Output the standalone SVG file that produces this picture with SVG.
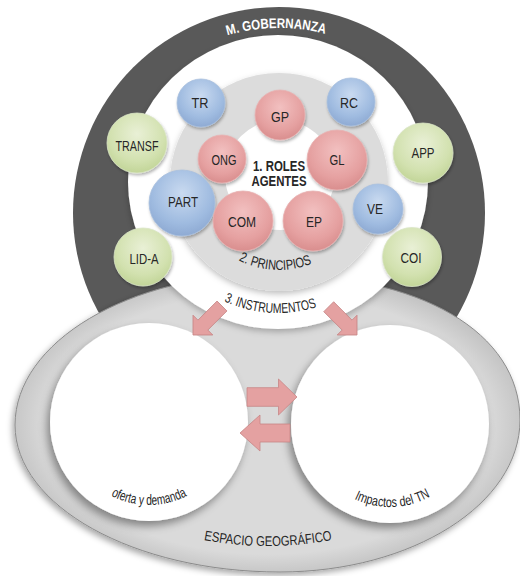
<svg xmlns="http://www.w3.org/2000/svg" width="520" height="576" viewBox="0 0 520 576">
<style>
text{font-family:"Liberation Sans",Arial,sans-serif;fill:#262626;font-size:14px}
.lbl{text-anchor:middle}
.b{font-weight:bold}
.blue{fill:url(#gBlue);stroke:#a9c0de;stroke-width:0.8;filter:url(#sh)}
.pink{fill:url(#gPink);stroke:#e8b2b2;stroke-width:0.8;filter:url(#sh)}
.green{fill:url(#gGreen);stroke:#dbe6c6;stroke-width:0.8;filter:url(#sh)}
.arr{fill:#e4a1a1;stroke:#c68585;stroke-width:0.8}
</style>
<defs>
<radialGradient id="gBlue" cx="50%" cy="35%" r="65%"><stop offset="0" stop-color="#c9daf0"/><stop offset="0.7" stop-color="#9fbbe0"/><stop offset="1" stop-color="#8eaad3"/></radialGradient>
<radialGradient id="gPink" cx="50%" cy="35%" r="65%"><stop offset="0" stop-color="#f2c0c0"/><stop offset="0.7" stop-color="#e5a0a0"/><stop offset="1" stop-color="#d98e8e"/></radialGradient>
<radialGradient id="gGreen" cx="50%" cy="35%" r="65%"><stop offset="0" stop-color="#e9f0d6"/><stop offset="0.7" stop-color="#d2e1af"/><stop offset="1" stop-color="#c2d598"/></radialGradient>
<radialGradient id="gEll" cx="50%" cy="50%" r="55%"><stop offset="0.8" stop-color="#dadada"/><stop offset="1" stop-color="#b8b8b8"/></radialGradient>
<filter id="sh" x="-20%" y="-20%" width="150%" height="150%"><feDropShadow dx="1" dy="2" stdDeviation="1.5" flood-color="#000" flood-opacity="0.3"/></filter>
<filter id="shE" x="-10%" y="-10%" width="120%" height="125%"><feDropShadow dx="-2" dy="3" stdDeviation="3" flood-color="#000" flood-opacity="0.35"/></filter>
<filter id="shW" x="-20%" y="-20%" width="140%" height="140%"><feDropShadow dx="-3" dy="5" stdDeviation="4" flood-color="#000" flood-opacity="0.4"/></filter>
<filter id="shD" x="-20%" y="-20%" width="140%" height="140%"><feDropShadow dx="0" dy="3" stdDeviation="3" flood-color="#000" flood-opacity="0.25"/></filter>
<path id="pTitle" d="M 94,213 A 185,185 0 0 1 464,213"/>
<path id="pPrin" d="M 191,182 A 88,88 0 0 0 367,182"/>
<path id="pInst" d="M 147,182 A 131,131 0 0 0 409,182"/>
<path id="pOfer" d="M 66,422 A 83,83 0 0 0 232,422"/>
<path id="pImp" d="M 307,424 A 83,83 0 0 0 473,424"/>
<path id="pEsp" d="M 168,531 A 341,341 0 0 0 368,531"/>
</defs>

<g id="gobernanza">
<circle cx="279" cy="213" r="206" fill="#595959"/>
</g>

<g id="espacio-geografico">
<path d="M 15,425 C 15,342 129,274 270,274 C 420,274 520,332 520,420 C 520,504 412,572 280,572 C 134,572 15,506 15,425 Z" fill="url(#gEll)" stroke="#8c8c8c" stroke-width="1" filter="url(#shE)"/>
<text class="lbl" font-size="14"><textPath href="#pEsp" startOffset="50%" textLength="129" lengthAdjust="spacingAndGlyphs">ESPACIO GEOGRÁFICO</textPath></text>
</g>

<g id="oferta">
<circle cx="149" cy="422" r="99" fill="#fff" filter="url(#shW)"/>
<text class="lbl" font-size="13.5"><textPath href="#pOfer" startOffset="50%" textLength="79" lengthAdjust="spacingAndGlyphs">oferta y demanda</textPath></text>
</g>

<g id="impactos">
<circle cx="390" cy="424" r="99" fill="#fff" filter="url(#shW)"/>
<text class="lbl" font-size="13.5"><textPath href="#pImp" startOffset="51%" textLength="79" lengthAdjust="spacingAndGlyphs">Impactos del TN</textPath></text>
</g>

<g id="instrumentos">
<ellipse cx="278" cy="182" rx="150" ry="147" fill="#fff" filter="url(#shD)"/>
<text class="lbl" font-size="14"><textPath href="#pInst" startOffset="48%" textLength="95" lengthAdjust="spacingAndGlyphs">3. INSTRUMENTOS</textPath></text>
</g>

<g id="titulo">
<text class="lbl b" font-size="14" style="fill:#fff"><textPath href="#pTitle" startOffset="49.5%" textLength="99" lengthAdjust="spacingAndGlyphs">M. GOBERNANZA</textPath></text>
</g>

<g id="principios">
<circle cx="279" cy="182" r="109" fill="#dcdcdc" filter="url(#shD)"/>
<text class="lbl" font-size="14"><textPath href="#pPrin" startOffset="48.5%" textLength="76" lengthAdjust="spacingAndGlyphs">2. PRINCIPIOS</textPath></text>
</g>

<g id="roles">
<circle cx="280" cy="175" r="55" fill="#fff"/>
<text class="lbl b" x="279" y="171" font-size="12.5" textLength="52" lengthAdjust="spacingAndGlyphs">1. ROLES</text>
<text class="lbl b" x="279" y="186" font-size="12.5" textLength="55" lengthAdjust="spacingAndGlyphs">AGENTES</text>
</g>

<g id="TR"><circle class="blue" cx="201" cy="103" r="24"/><text class="lbl" x="200" y="108" textLength="17" lengthAdjust="spacingAndGlyphs">TR</text></g>
<g id="GP"><circle class="pink" cx="280" cy="115" r="25"/><text class="lbl" x="280" y="122" textLength="18" lengthAdjust="spacingAndGlyphs">GP</text></g>
<g id="RC"><circle class="blue" cx="351" cy="102" r="24"/><text class="lbl" x="349" y="108" textLength="18" lengthAdjust="spacingAndGlyphs">RC</text></g>
<g id="ONG"><circle class="pink" cx="222" cy="159" r="24"/><text class="lbl" x="224" y="165" textLength="25" lengthAdjust="spacingAndGlyphs">ONG</text></g>
<g id="GL"><circle class="pink" cx="337" cy="160" r="30"/><text class="lbl" x="337" y="165" textLength="15" lengthAdjust="spacingAndGlyphs">GL</text></g>
<g id="PART"><circle class="blue" cx="182" cy="203" r="33"/><text class="lbl" x="183" y="207" textLength="30" lengthAdjust="spacingAndGlyphs">PART</text></g>
<g id="COM"><circle class="pink" cx="243" cy="221" r="30"/><text class="lbl" x="242" y="227" textLength="28" lengthAdjust="spacingAndGlyphs">COM</text></g>
<g id="EP"><circle class="pink" cx="313" cy="221" r="30"/><text class="lbl" x="314" y="227" textLength="16" lengthAdjust="spacingAndGlyphs">EP</text></g>
<g id="VE"><circle class="blue" cx="378" cy="209" r="25"/><text class="lbl" x="375" y="214" textLength="16" lengthAdjust="spacingAndGlyphs">VE</text></g>
<g id="TRANSF"><circle class="green" cx="137" cy="143" r="30"/><text class="lbl" x="137" y="151" textLength="43" lengthAdjust="spacingAndGlyphs">TRANSF</text></g>
<g id="APP"><circle class="green" cx="423" cy="153" r="30"/><text class="lbl" x="423" y="158" textLength="23" lengthAdjust="spacingAndGlyphs">APP</text></g>
<g id="LID-A"><circle class="green" cx="143" cy="257" r="29"/><text class="lbl" x="144" y="264" textLength="29" lengthAdjust="spacingAndGlyphs">LID-A</text></g>
<g id="COI"><circle class="green" cx="412" cy="257" r="29.5"/><text class="lbl" x="411" y="263" textLength="21" lengthAdjust="spacingAndGlyphs">COI</text></g>

<g id="connectors">
<polygon class="arr" transform="translate(193,335) rotate(135)" points="0,0 -14,-14 -14,-7 -41,-7 -41,7 -14,7 -14,14"/>
<polygon class="arr" transform="translate(357,335) rotate(45)" points="0,0 -14,-14 -14,-7 -40,-7 -40,7 -14,7 -14,14"/>
<polygon class="arr" transform="translate(297,397)" points="0,0 -18.5,-18 -18.5,-9.3 -50,-9.3 -50,9.3 -18.5,9.3 -18.5,18"/>
<polygon class="arr" transform="translate(240,433) rotate(180)" points="0,0 -20,-18 -20,-9 -50,-9 -50,9 -20,9 -20,18"/>
</g>
</svg>
